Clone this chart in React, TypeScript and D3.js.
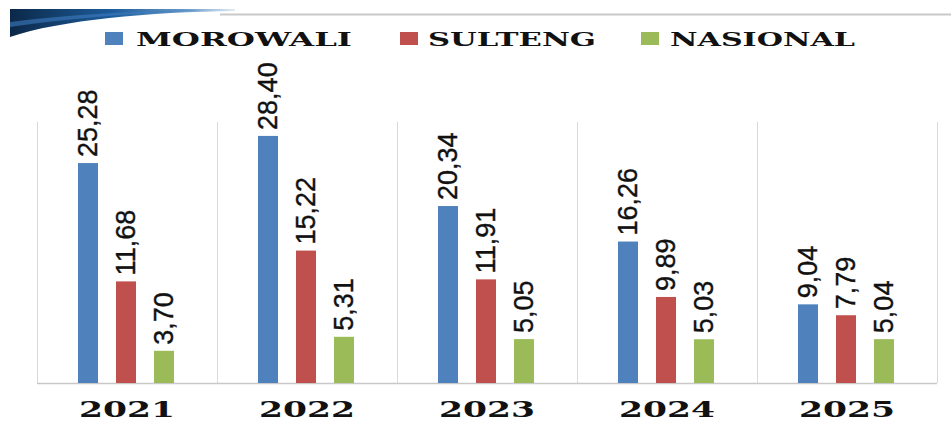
import React, { useEffect, useRef } from 'react'
import * as d3 from 'd3'

const years = ['2021', '2022', '2023', '2024', '2025']
const seriesNames = ['MOROWALI', 'SULTENG', 'NASIONAL']
const morowali = [25.28, 28.4, 20.34, 16.26, 9.04]
const sulteng = [11.68, 15.22, 11.91, 9.89, 7.79]
const nasional = [3.7, 5.31, 5.05, 5.03, 5.04]
const seriesColors = ['#4F81BD', '#C0504D', '#9BBB59']

const W = 951
const H = 423

export default function App() {
  const node = useRef<SVGSVGElement | null>(null)

  useEffect(() => {
    const svg = d3.select(node.current)
    svg.selectAll('*').remove()

    const values = [morowali, sulteng, nasional]
    const left = 37, right = 937, top = 122, bottom = 383

    const x0 = d3.scaleBand().domain(years).range([left, right])
    // bars are 20 wide, 38 apart inside each 180px group
    const bw = 20
    const step = 38
    const y = d3.scaleLinear().domain([0, 30]).range([bottom, top])

    // header decoration
    const defs = svg.append('defs')
    const grad = defs.append('linearGradient').attr('id', 'swoosh')
      .attr('x1', '0%').attr('x2', '100%').attr('y1', '0%').attr('y2', '0%')
    grad.append('stop').attr('offset', '0%').attr('stop-color', '#0b2848')
    grad.append('stop').attr('offset', '45%').attr('stop-color', '#1d5c9a')
    grad.append('stop').attr('offset', '80%').attr('stop-color', '#6f9fcc')
    grad.append('stop').attr('offset', '100%').attr('stop-color', '#e4ecf4')

    svg.append('line')
      .attr('x1', 220).attr('x2', W).attr('y1', 14.5).attr('y2', 14.5)
      .attr('stroke', '#c9c9c9').attr('stroke-width', 2)
    svg.append('path')
      .attr('d', 'M10,9 L235,9 L235,11 C150,12 60,20 10,37 Z')
      .attr('fill', 'url(#swoosh)')
    svg.append('path')
      .attr('d', 'M10,22 C70,14 140,11 200,10 C140,13 70,18 10,27 Z')
      .attr('fill', '#3d7cc0').attr('opacity', 0.6)

    // legend
    const legendItems = [
      { box: 105, text: 136, len: 216 },
      { box: 400, text: 428, len: 168 },
      { box: 641, text: 670, len: 185 }
    ]
    seriesNames.forEach((name, i) => {
      const it = legendItems[i]
      svg.append('rect')
        .attr('x', it.box).attr('y', 32).attr('width', 18).attr('height', 13)
        .attr('fill', seriesColors[i])
      svg.append('text')
        .attr('x', it.text).attr('y', 46)
        .attr('font-family', 'DejaVu Serif')
        .attr('font-weight', 'bold')
        .attr('font-size', 19)
        .attr('textLength', it.len)
        .attr('lengthAdjust', 'spacingAndGlyphs')
        .attr('fill', '#111')
        .text(name)
    })

    // vertical gridlines between groups
    const bounds = years.map(d => x0(d) as number).concat([right])
    svg.append('g').selectAll('line').data(bounds).enter().append('line')
      .attr('x1', d => d + 0.5).attr('x2', d => d + 0.5)
      .attr('y1', top).attr('y2', bottom)
      .attr('stroke', '#d9d9d9').attr('stroke-width', 1)

    svg.append('line')
      .attr('x1', left).attr('x2', right).attr('y1', bottom + 0.5).attr('y2', bottom + 0.5)
      .attr('stroke', '#c8c8c8').attr('stroke-width', 1.5)

    const fmt = (v: number) => v.toFixed(2).replace('.', ',')

    values.forEach((vals, si) => {
      const g = svg.append('g')
      const bx = (i: number) => (x0(years[i]) as number) + 41 + si * step
      g.selectAll('rect').data(vals).enter().append('rect')
        .attr('x', (d, i) => bx(i))
        .attr('y', d => y(d))
        .attr('width', bw)
        .attr('height', d => bottom - y(d))
        .attr('fill', seriesColors[si])
      g.selectAll('text').data(vals).enter().append('text')
        .attr('transform', (d, i) => `translate(${bx(i) + bw / 2 + 9},${y(d) - 6}) rotate(-90)`)
        .attr('font-family', 'Liberation Sans')
        .attr('font-size', 27)
        .attr('fill', '#111')
        .attr('stroke', '#111').attr('stroke-width', 0.4)
        .text(d => fmt(d))
    })

    // year labels
    svg.append('g').selectAll('text').data(years).enter().append('text')
      .attr('x', d => (x0(d) as number) + x0.bandwidth() / 2)
      .attr('y', 417)
      .attr('text-anchor', 'middle')
      .attr('font-family', 'DejaVu Serif')
      .attr('font-weight', 'bold')
      .attr('font-size', 23)
      .attr('textLength', 96)
      .attr('lengthAdjust', 'spacingAndGlyphs')
      .attr('fill', '#111')
      .text(d => d)
  }, [])

  return (
    <svg ref={node} width={W} height={H}
      style={{ position: 'absolute', left: 0, top: 0, background: '#fff' }} />
  )
}
